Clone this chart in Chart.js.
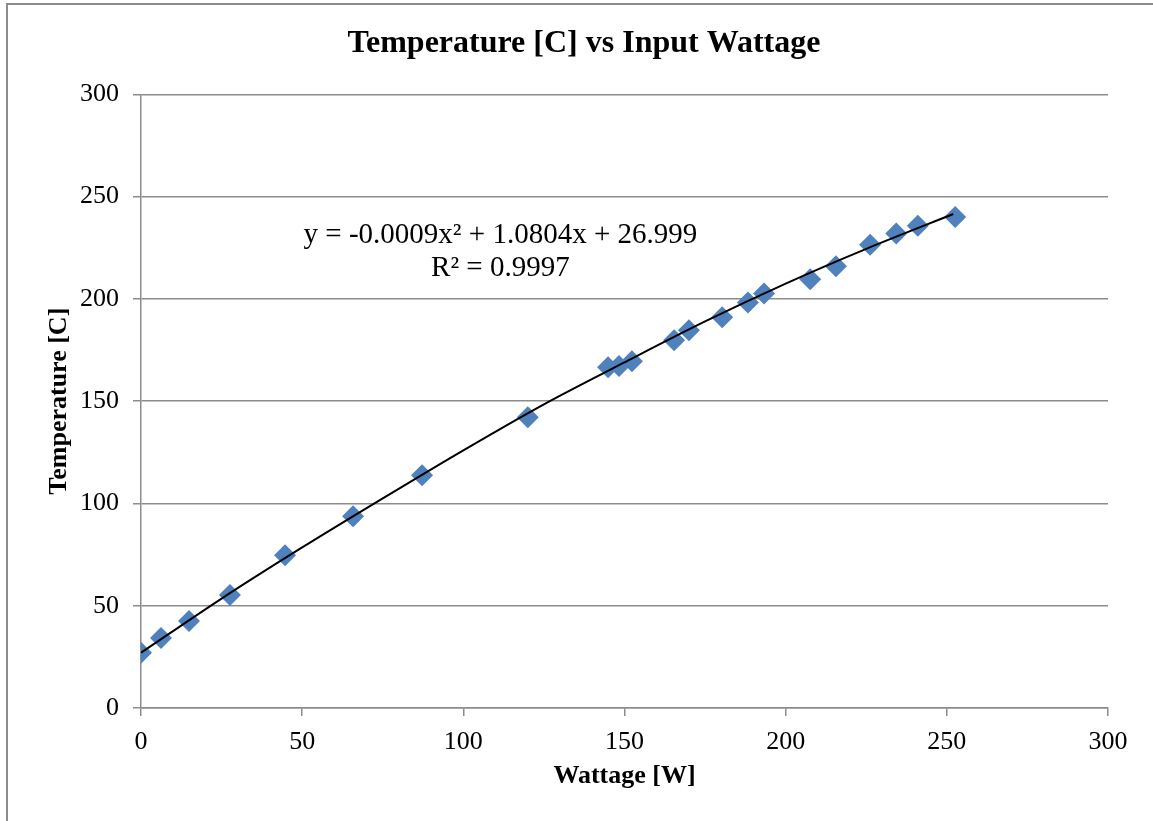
<!DOCTYPE html>
<html>
<head>
<meta charset="utf-8">
<script src="https://cdn.jsdelivr.net/npm/chart.js@4.4.1/dist/chart.umd.min.js"></script>
<style>
  html, body { margin: 0; padding: 0; background: #fff; overflow: hidden; }
  #frame { position: absolute; left: 6px; top: 3px; width: 1400px; height: 1000px;
           border-left: 2px solid #8c8c8c; border-top: 2px solid #8c8c8c; }
  #wrap { position: absolute; left: 0; top: 0; width: 1153px; height: 821px; }
</style>
</head>
<body>
<div id="frame"></div>
<div id="wrap"><canvas id="myChart"></canvas></div>
<script>
// measured points (wattage W, temperature C)
const wattage = [0, 6.2, 14.9, 27.6, 44.7, 65.8, 87.2, 120, 144.9, 148.3, 152.3, 165.4, 170, 180.3, 188.3, 193.3, 207.6, 215.6, 226.2, 234.3, 241, 252.6];
const temperature = [27, 34.2, 42.5, 55.2, 74.7, 93.8, 113.8, 142.2, 166.6, 167.2, 169.5, 179.8, 184.7, 191, 198.3, 202.7, 209.6, 216, 226.5, 232, 235.8, 240];

// trendline
const trendX = [0, 25, 50, 75, 100, 125, 150, 175, 200, 225, 252];
const trendY = [27, 53.5, 78.5, 102.5, 126, 148.5, 169, 189, 207.5, 224.5, 241.5];

const xTicks = [0, 50, 100, 150, 200, 250, 300];
const yTicks = [0, 50, 100, 150, 200, 250, 300];

const eqLines = ['y = -0.0009x\u00B2 + 1.0804x + 26.999', 'R\u00B2 = 0.9997'];
const eqAt = [111.5, 231, 214.8]; // x, y line1, y line2 in data units

const font = 'Liberation Serif';
const gridColor = '#8c8c8c';

const points = wattage.map((w, i) => ({ x: w, y: temperature[i] }));
const trend = trendX.map((w, i) => ({ x: w, y: trendY[i] }));

const equationLabel = {
    id: 'equationLabel',
    afterDatasetsDraw(chart) {
        const c = chart.ctx;
        const xs = chart.scales.x, ys = chart.scales.y;
        c.save();
        c.font = '29px "' + font + '"';
        c.fillStyle = '#000';
        c.textAlign = 'center';
        c.textBaseline = 'middle';
        c.fillText(eqLines[0], xs.getPixelForValue(eqAt[0]), ys.getPixelForValue(eqAt[1]));
        c.fillText(eqLines[1], xs.getPixelForValue(eqAt[0]), ys.getPixelForValue(eqAt[2]));
        c.restore();
    }
};

const ctx = document.getElementById('myChart').getContext('2d');
const chart = new Chart(ctx, {
    type: 'scatter',
    data: {
        datasets: [{
            label: 'Poly. (Temperature)',
            data: trend,
            showLine: true,
            borderColor: '#000',
            borderWidth: 2,
            pointRadius: 0,
            tension: 0.3,
            fill: false
        }, {
            label: 'Temperature',
            data: points,
            pointStyle: 'rectRot',
            pointRadius: 11,
            pointHoverRadius: 11,
            backgroundColor: '#4f81bd',
            borderColor: '#4f81bd',
            borderWidth: 0
        }]
    },
    options: {
        responsive: true,
        maintainAspectRatio: false,
        animation: false,
        layout: { padding: { left: 60, right: 45, top: 0, bottom: 29 } },
        plugins: {
            legend: { display: false },
            tooltip: { enabled: false },
            title: {
                display: true,
                text: 'Temperature [C] vs Input Wattage',
                color: '#000',
                font: { family: font, size: 32, weight: 'bold' },
                padding: { top: 25, bottom: 31 }
            }
        },
        scales: {
            x: {
                type: 'linear',
                min: 0,
                max: 300,
                afterBuildTicks: s => { s.ticks = xTicks.map(v => ({ value: v })); },
                afterFit: s => { s.height = 84; },
                ticks: { color: '#000', font: { family: font, size: 26 }, padding: 11, maxRotation: 0 },
                grid: { drawOnChartArea: false, drawTicks: true, tickLength: 8, color: gridColor, lineWidth: 1.5 },
                border: { color: gridColor, width: 1.5 },
                title: { display: true, text: 'Wattage [W]', color: '#000',
                         font: { family: font, size: 26, weight: 'bold' }, padding: 0 }
            },
            y: {
                type: 'linear',
                min: 0,
                max: 300,
                afterBuildTicks: s => { s.ticks = yTicks.map(v => ({ value: v })); },
                afterFit: s => { s.width = 81; },
                ticks: { color: '#000', font: { family: font, size: 26 }, padding: 14 },
                grid: { tickLength: 8, color: gridColor, lineWidth: 1.5 },
                border: { color: gridColor, width: 1.5 },
                title: { display: true, text: 'Temperature [C]', color: '#000',
                         font: { family: font, size: 26, weight: 'bold' }, padding: { top: -16, bottom: 0 } }
            }
        }
    },
    plugins: [equationLabel]
});
</script>
</body>
</html>
